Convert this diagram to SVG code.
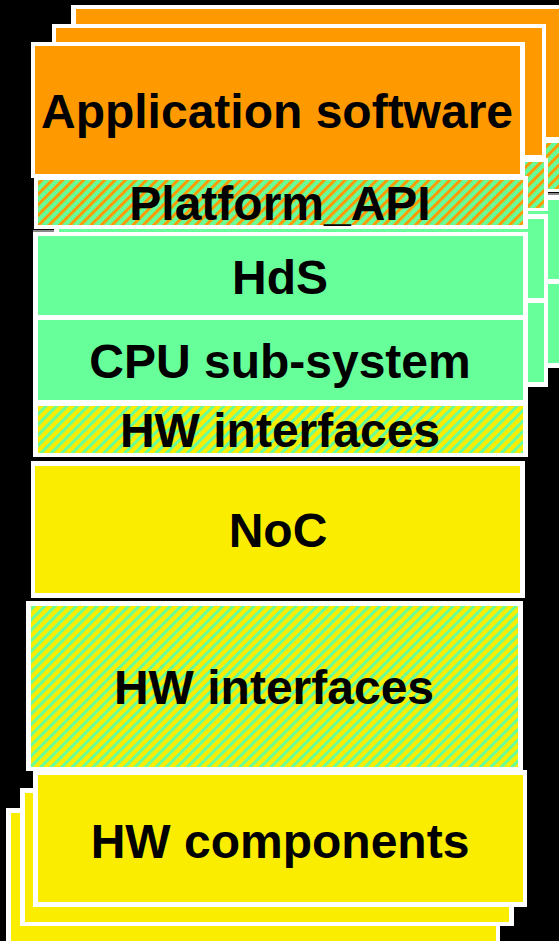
<svg xmlns="http://www.w3.org/2000/svg" width="559" height="941" viewBox="0 0 559 941">
  <defs>
    <pattern id="hatchOrange" patternUnits="userSpaceOnUse" width="7.4" height="7.4" patternTransform="rotate(45)">
      <rect width="7.4" height="7.4" fill="#66FF99"/>
      <rect width="3" height="7.4" fill="#FF9900"/>
    </pattern>
    <pattern id="hatchYellow" patternUnits="userSpaceOnUse" width="7.4" height="7.4" patternTransform="rotate(45)">
      <rect width="7.4" height="7.4" fill="#FAED00"/>
      <rect width="3" height="7.4" fill="#66FF99"/>
    </pattern>
  </defs>
  <style>
    .w { fill: #FFFFFF; }
    .or { fill: #FF9900; }
    .gr { fill: #66FF99; }
    .ye { fill: #FAED00; }
    .ho { fill: url(#hatchOrange); }
    .hy { fill: url(#hatchYellow); }
    .t { font-family: "Liberation Sans", Arial, sans-serif; font-weight: bold; font-size: 48px; fill: #000000; text-anchor: middle; }
    .gl { stroke: #888888; stroke-width: 2; }
  </style>
  <rect x="0" y="0" width="559" height="941" fill="#000000"/>

  <!-- back copy of the software stack -->
  <g id="sw-stack-back">
    <rect class="w" x="71" y="5" width="494" height="136"/>
    <rect class="or" x="76" y="9" width="485" height="128"/>
    <rect class="w" x="74" y="139" width="494" height="53"/>
    <rect class="ho" x="78" y="143" width="485" height="46"/>
    <rect class="w" x="73" y="195" width="495" height="173"/>
    <rect class="gr" x="78" y="200" width="485" height="79"/>
    <rect class="gr" x="78" y="284" width="485" height="79"/>
    <line class="gl" x1="547" y1="194" x2="559" y2="194"/>
  </g>

  <!-- middle copy of the software stack -->
  <g id="sw-stack-middle">
    <rect class="w" x="52" y="24" width="494" height="136"/>
    <rect class="or" x="56" y="28" width="486" height="127"/>
    <rect class="w" x="55" y="158" width="493" height="53"/>
    <rect class="ho" x="59" y="162" width="485" height="46"/>
    <rect class="w" x="54" y="214" width="494" height="173"/>
    <rect class="gr" x="59" y="219" width="485" height="79"/>
    <rect class="gr" x="59" y="303" width="485" height="79"/>
  </g>

  <!-- front software stack -->
  <g id="application-software">
    <rect class="w" x="31" y="42" width="494" height="136"/>
    <rect class="or" x="35" y="46" width="485" height="128"/>
    <text class="t" x="277" y="128">Application software</text>
  </g>
  <g id="platform-api">
    <rect class="w" x="34" y="176" width="494" height="53"/>
    <rect class="ho" x="38" y="180" width="485" height="45"/>
    <text class="t" x="280" y="220">Platform_API</text>
  </g>
  <g id="cpu-frame">
    <rect class="w" x="33" y="232" width="495" height="225"/>
    <line class="gl" x1="33" y1="231" x2="54" y2="231"/>
  </g>
  <g id="hds">
    <rect class="gr" x="38" y="236" width="485" height="79"/>
    <text class="t" x="280" y="294">HdS</text>
  </g>
  <g id="cpu-subsystem">
    <rect class="gr" x="38" y="320" width="485" height="80"/>
    <text class="t" x="280" y="378">CPU sub-system</text>
  </g>
  <g id="hw-interfaces-cpu">
    <rect class="hy" x="38" y="406" width="485" height="47"/>
    <text class="t" x="280" y="447">HW interfaces</text>
  </g>

  <!-- NoC -->
  <g id="noc">
    <rect class="w" x="31" y="461" width="494" height="137"/>
    <rect class="ye" x="35" y="466" width="485" height="127"/>
    <text class="t" x="278" y="547">NoC</text>
  </g>

  <!-- HW interfaces (large) -->
  <g id="hw-interfaces">
    <rect class="w" x="26" y="601" width="497" height="170"/>
    <rect class="hy" x="31" y="606" width="487" height="161"/>
    <text class="t" x="274" y="704">HW interfaces</text>
  </g>

  <!-- HW components stack -->
  <g id="hw-components-back">
    <rect class="w" x="6" y="808" width="494" height="140"/>
    <rect class="ye" x="11" y="813" width="485" height="135"/>
  </g>
  <g id="hw-components-middle">
    <rect class="w" x="20" y="788" width="494" height="138"/>
    <rect class="ye" x="25" y="793" width="484" height="129"/>
  </g>
  <g id="hw-components">
    <rect class="w" x="33" y="770" width="494" height="137"/>
    <rect class="ye" x="38" y="775" width="485" height="127"/>
    <text class="t" x="280" y="858">HW components</text>
  </g>
</svg>
